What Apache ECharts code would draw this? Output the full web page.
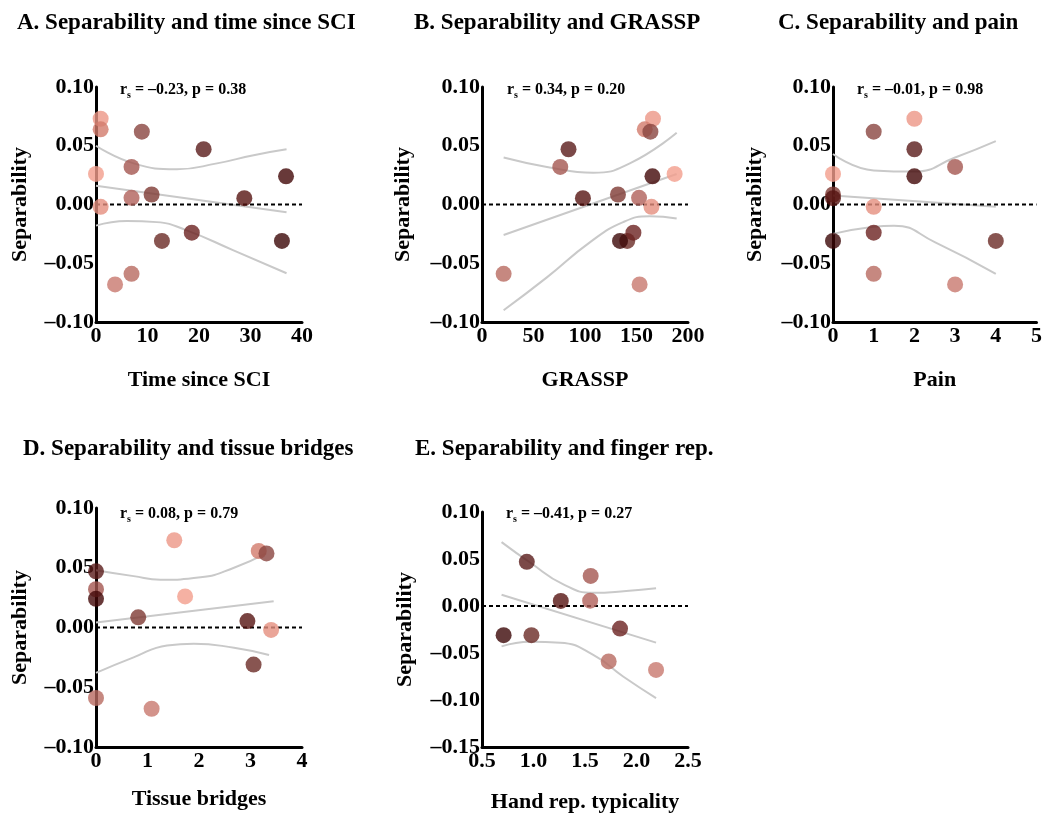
<!DOCTYPE html>
<html><head><meta charset="utf-8">
<script src="https://cdn.jsdelivr.net/npm/echarts@6/dist/echarts.min.js"></script>
<style>html,body{margin:0;padding:0;background:#fff}#c{width:1045px;height:814px}</style>
</head><body><div id="c"></div>
<script>
// Participant colours and separability values (shared y values)
const participantColors = ['#ec9686','#d27a6c','#8a4540','#5a1c1a','#a45650','#f29e8c','#420808','#7e3a33','#b0605a','#561412','#e58e7e','#6a2a25','#6c2220','#3c0808','#b86a60','#c8786e'];
const separability = [0.073,0.064,0.062,0.047,0.032,0.026,0.024,0.0085,0.0057,0.0054,-0.002,-0.031,-0.024,-0.031,-0.059,-0.068];

// x values per participant for each panel (null = not shown)
const timeSinceSCI = [0.9,0.9,8.9,20.9,6.9,0,36.9,10.8,6.9,28.8,0.9,12.8,18.6,36.1,6.9,3.7];
const grassp = [166,158,163.5,84,76,187,165.5,132,152.5,98,164.5,141,147,134,21,153];
const pain = [2,null,1,2,3,0,2,0,null,0,1,4,1,0,1,3];
const tissueBridges = [1.52,3.16,3.31,0,0,1.73,0,0.82,null,2.94,3.4,3.06,null,null,0,1.08];
const handTypicality = [null,null,null,0.935,1.555,null,null,null,1.55,1.265,null,0.98,1.84,0.71,1.73,2.19];

// Confidence band curves
const curveA_upper = [[0,0.050],[7.3,0.035],[15.7,0.030],[23.5,0.035],[30.6,0.042],[37,0.047]];
const curveA_mid = [[0,0.016],[37,-0.0065]];
const curveA_lower = [[0,-0.018],[6,-0.014],[11.8,-0.015],[17.6,-0.022],[26.7,-0.039],[37,-0.0585]];
const curveB_upper = [[21,0.040],[63,0.032],[108,0.027],[143.5,0.035],[189,0.061]];
const curveB_mid = [[21,-0.026],[189,0.026]];
const curveB_lower = [[21,-0.090],[63,-0.062],[105,-0.032],[137,-0.015],[163,-0.010],[189,-0.012]];
const curveC_upper = [[0,0.043],[1,0.029],[2,0.028],[3,0.040],[4,0.054]];
const curveC_mid = [[0,0.0077],[4,-0.002]];
const curveC_lower = [[0,-0.025],[1,-0.019],[1.5,-0.018],[2.5,-0.032],[4,-0.059]];
const curveD_upper = [[0,0.048],[0.73,0.043],[1.25,0.040],[2.03,0.042],[2.68,0.050],[3.3,0.062]];
const curveD_mid = [[0,0.0042],[3.45,0.022]];
const curveD_lower = [[0,-0.038],[0.73,-0.025],[1.38,-0.015],[1.9,-0.0135],[2.68,-0.017],[3.36,-0.023]];
const curveE_upper = [[0.69,0.068],[0.97,0.046],[1.29,0.023],[1.58,0.014],[1.90,0.016],[2.19,0.019]];
const curveE_mid = [[0.69,0.012],[2.19,-0.039]];
const curveE_lower = [[0.69,-0.043],[0.97,-0.038],[1.26,-0.039],[1.58,-0.052],[1.87,-0.075],[2.19,-0.098]];

const panelTitles = ['A. Separability and time since SCI','B. Separability and GRASSP','C. Separability and pain','D. Separability and tissue bridges','E. Separability and finger rep.'];
const xNames = ['Time since SCI','GRASSP','Pain','Tissue bridges','Hand rep. typicality'];
const yName = 'Separability';
const stats = [['–0.23','0.38'],['0.34','0.20'],['–0.01','0.98'],['0.08','0.79'],['–0.41','0.27']];

const FONT = '"Liberation Serif", "Times New Roman", serif';

const panels = [
  {grid:{left:96,top:87,width:206,height:235}, x:[0,40,10], y:[-0.1,0.1,0.05], xs:timeSinceSCI, curves:[curveA_upper,curveA_mid,curveA_lower], dec:0, title:[12,7], ann:[120,82], yGap:65, xGap:47},
  {grid:{left:482,top:87,width:206,height:235}, x:[0,200,50], y:[-0.1,0.1,0.05], xs:grassp, curves:[curveB_upper,curveB_mid,curveB_lower], dec:0, title:[409,7], ann:[507,82], yGap:68, xGap:47},
  {grid:{left:833,top:87,width:205,height:235}, x:[0,5,1], y:[-0.1,0.1,0.05], xs:pain, curves:[curveC_upper,curveC_mid,curveC_lower], dec:0, title:[773,7], ann:[857,82], yGap:67, xGap:47},
  {grid:{left:96,top:508,width:206,height:239}, x:[0,4,1], y:[-0.1,0.1,0.05], xs:tissueBridges, curves:[curveD_upper,curveD_mid,curveD_lower], dec:0, title:[18,433], ann:[120,506], yGap:65, xGap:41},
  {grid:{left:482,top:512,width:206,height:235}, x:[0.5,2.5,0.5], y:[-0.15,0.1,0.05], xs:handTypicality, curves:[curveE_upper,curveE_mid,curveE_lower], dec:1, title:[410,433], ann:[506,506], yGap:66, xGap:44}
];

const fmtY = v => (v < -1e-9 ? '–' : '') + Math.abs(v).toFixed(2);

const option = {
  backgroundColor:'#fff',
  animation:false,
  title: panels.map((p,i)=>({text:panelTitles[i], left:p.title[0], top:p.title[1],
    textStyle:{fontFamily:FONT,fontWeight:'bold',fontSize:23,color:'#000'}})),
  grid: panels.map(p=>p.grid),
  xAxis: panels.map((p,i)=>({type:'value', gridIndex:i, min:p.x[0], max:p.x[1], interval:p.x[2],
    name:xNames[i], nameLocation:'middle', nameGap:p.xGap,
    nameTextStyle:{fontFamily:FONT,fontWeight:'bold',fontSize:22,color:'#000'},
    axisLine:{show:true,onZero:false,lineStyle:{color:'#000',width:3}},
    axisTick:{show:false}, splitLine:{show:false},
    axisLabel:{fontFamily:FONT,fontWeight:'bold',fontSize:22,color:'#000',margin:3,
      formatter:(v)=>Number(v).toFixed(p.dec)}})),
  yAxis: panels.map((p,i)=>({type:'value', gridIndex:i, min:p.y[0], max:p.y[1], interval:p.y[2],
    name:yName, nameLocation:'middle', nameGap:p.yGap,
    nameTextStyle:{fontFamily:FONT,fontWeight:'bold',fontSize:22,color:'#000'},
    axisLine:{show:true,onZero:false,lineStyle:{color:'#000',width:3}},
    axisTick:{show:false}, splitLine:{show:false},
    axisLabel:{fontFamily:FONT,fontWeight:'bold',fontSize:22,color:'#000',margin:2,formatter:fmtY}})),
  graphic: panels.map((p,i)=>({type:'text', left:p.ann[0], top:p.ann[1], z:10,
    style:{text:'{a|r}{b|s}{a| = '+stats[i][0]+', p = '+stats[i][1]+'}',
      rich:{a:{fontFamily:FONT,fontWeight:'bold',fontSize:16,color:'#000',lineHeight:20},
            b:{fontFamily:FONT,fontWeight:'bold',fontSize:10,color:'#000',lineHeight:20,verticalAlign:'bottom',padding:[7,0,0,0]}}}})),
  series: []
};

panels.forEach((p,i)=>{
  p.curves.forEach(c=>{
    option.series.push({type:'line', xAxisIndex:i, yAxisIndex:i, data:c, smooth:0.5, showSymbol:false, silent:true,
      lineStyle:{color:'#c9c9c9',width:2}, z:1});
  });
  option.series.push({type:'line', xAxisIndex:i, yAxisIndex:i, data:[[p.x[0],0],[p.x[1],0]], showSymbol:false, silent:true,
    lineStyle:{color:'#000',width:2,type:[4,3]}, z:2});
  const pts = [];
  p.xs.forEach((x,k)=>{ if(x!==null) pts.push({value:[x,separability[k]], itemStyle:{color:participantColors[k]}}); });
  option.series.push({type:'scatter', xAxisIndex:i, yAxisIndex:i, data:pts, symbolSize:16, z:3});
});

const chart = echarts.init(document.getElementById('c'));
chart.setOption(option);
</script></body></html>
